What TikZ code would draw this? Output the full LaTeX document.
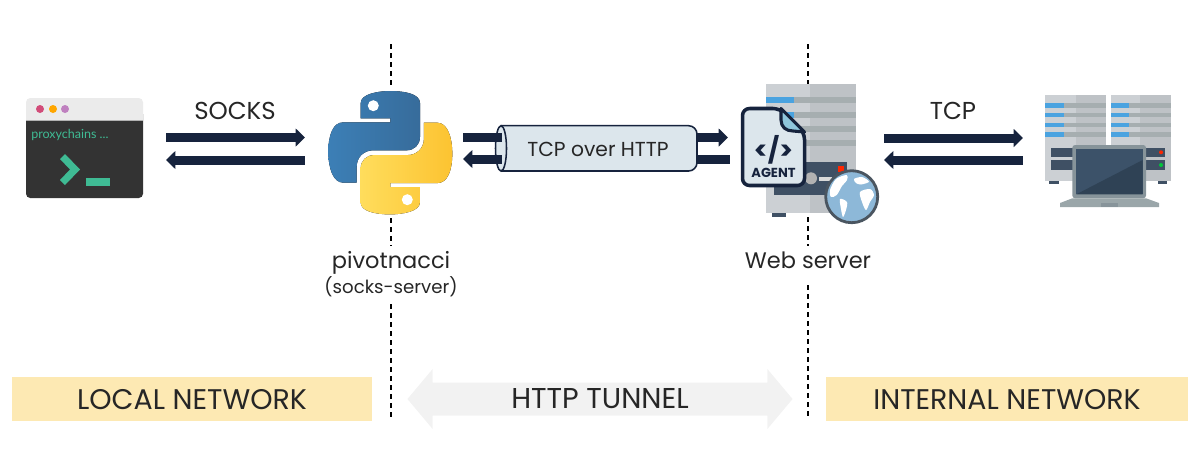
\documentclass[tikz,border=0pt]{standalone}
\usepackage{fontspec}
\setmainfont{Poppins}
\newfontfamily\promptfont{Lato}
\usetikzlibrary{arrows.meta,shapes.arrows}
\definecolor{navy}{HTML}{16233D}
\definecolor{band}{HTML}{FDE9B3}
\definecolor{pipe}{HTML}{DCE6EC}
\definecolor{rackl}{HTML}{CCD0D4}
\definecolor{rackr}{HTML}{BEC2C6}
\definecolor{rackbar}{HTML}{A6AEB0}
\definecolor{rackblue}{HTML}{4AA3E0}
\definecolor{panel}{HTML}{3F5064}
\definecolor{mint}{HTML}{3FBB94}
\definecolor{termbody}{HTML}{333333}
\definecolor{termbar}{HTML}{EBEBEB}
\definecolor{globefill}{HTML}{8DB8D8}
\definecolor{globerim}{HTML}{4A5560}
\definecolor{bezel}{HTML}{87949A}
\definecolor{deck}{HTML}{9AA6A9}
\definecolor{screena}{HTML}{3C5269}
\definecolor{screenb}{HTML}{2F4255}
\definecolor{snakea}{HTML}{3C7FB6}
\definecolor{snakeb}{HTML}{376C9B}
\definecolor{snakec}{HTML}{FFDD5C}
\definecolor{snaked}{HTML}{FCC331}
\tikzset{
  flowright/.style={draw=navy,line width=6.4pt,-{Triangle[length=6.6pt,width=12.4pt]}},
  flowleft/.style={draw=navy,line width=6.4pt,{Triangle[length=6.6pt,width=12.4pt]}-},
  flowplain/.style={draw=navy,line width=6.4pt},
  boundary/.style={draw=black,line width=0.9pt,dash pattern=on 3.5pt off 2.9pt},
  caption/.style={font=\fontsize{16}{19}\selectfont,text=black!85,inner sep=0pt},
  bigcaption/.style={font=\fontsize{17.4}{20}\selectfont,text=black!85,inner sep=0pt},
  smallcaption/.style={font=\fontsize{12.9}{15}\selectfont,text=black!85,inner sep=0pt},
  zoneband/.style={fill=band,minimum height=30.6pt,inner sep=0pt,font=\fontsize{20.2}{24}\selectfont,text=black!85}
}
\begin{document}
\begin{tikzpicture}[x=0.025cm,y=-0.025cm]
\useasboundingbox (0,0) rectangle (1200,469);
% zone boundaries
\coordinate (lefta) at (391,44);
\coordinate (leftb) at (391,87);
\coordinate (leftc) at (391,218);
\coordinate (leftd) at (391,246);
\coordinate (lefte) at (391,304);
\coordinate (leftf) at (391,419);
\coordinate (righta) at (808,44);
\coordinate (rightb) at (808,84);
\coordinate (rightc) at (808,217);
\coordinate (rightd) at (808,246);
\coordinate (righte) at (808,285);
\coordinate (rightf) at (808,419);
\draw [boundary] (lefta) -- (leftb);
\draw [boundary] (leftc) -- (leftd);
\draw [boundary] (lefte) -- (leftf);
\draw [boundary] (righta) -- (rightb);
\draw [boundary] (rightc) -- (rightd);
\draw [boundary] (righte) -- (rightf);
% terminal
\fill [termbody,rounded corners=3pt] (26,110) rectangle (143,198);
\fill [termbar,rounded corners=3pt] (26,98) rectangle (143,122);
\fill [termbar] (26,110) rectangle (143,120);
\fill [black!30] (26,120) rectangle (143,121);
\fill [termbody] (26,121) rectangle (143,130);
\fill [red!75!blue!70!white] (40,109) circle (4);
\fill [orange!70!yellow] (53,109) circle (4);
\fill [violet!50!white] (65,109) circle (4);
\node (prompt) [font=\promptfont\fontsize{8.9}{11}\selectfont,text=mint,inner sep=0pt,anchor=west] at (31,134.5) {proxychains ...};
\fill [mint] (65,154) -- (60,159) -- (70,169.5) -- (60,180) -- (65,185) -- (80,169.5) -- cycle;
\fill [mint] (86,178) rectangle (110,186);
% python
\fill [left color=snakea,right color=snakeb,draw=none]
  (360.7,118.3) -- (360.7,103) .. controls (360.7,94) and (378,91) .. (390.3,91)
  .. controls (405,91) and (420,94) .. (420,103) -- (420,136.7)
  .. controls (420,145) and (414,150.3) .. (406.7,150.3) -- (373.3,150.3)
  .. controls (364,150.3) and (356.7,157) .. (356.7,166.7) -- (356.7,182.7) -- (343.3,182.7)
  .. controls (333,182.7) and (328.3,168) .. (328.3,151.7)
  .. controls (328.3,135) and (333,122.3) .. (343.3,122.3) -- (390.3,122.3) -- (390.3,118.3) -- cycle;
\fill [left color=snakec,right color=snaked,draw=none]
  (419.9,187.1) -- (419.9,202.4) .. controls (419.9,211.4) and (402.6,214.4) .. (390.3,214.4)
  .. controls (375.6,214.4) and (360.6,211.4) .. (360.6,202.4) -- (360.6,168.7)
  .. controls (360.6,160.4) and (366.6,155.1) .. (373.9,155.1) -- (407.3,155.1)
  .. controls (416.6,155.1) and (423.9,148.4) .. (423.9,138.7) -- (423.9,122.7) -- (437.3,122.7)
  .. controls (447.6,122.7) and (452.3,137.4) .. (452.3,153.7)
  .. controls (452.3,170.4) and (447.6,183.1) .. (437.3,183.1) -- (390.3,183.1) -- (390.3,187.1) -- cycle;
\fill [white] (373.3,105.7) circle (5.5);
\fill [white] (407.3,199.7) circle (5.5);
% tunnel
\coordinate (tunnelouta) at (697,137.5);
\coordinate (tunneloutb) at (728,137.5);
\coordinate (tunneloutc) at (697,159);
\coordinate (tunneloutd) at (730,159);
\draw [flowright] (tunnelouta) -- (tunneloutb);
\draw [flowplain] (tunneloutc) -- (tunneloutd);
\draw [navy,fill=pipe,line width=1.1pt,rounded corners=6pt] (501,125.7) -- (697,125.7) -- (697,171) -- (501,171);
\draw [navy,fill=pipe,line width=1.1pt] (501,148.4) ellipse (5.5 and 22.7);
\node (tunnel) [smallcaption,font=\fontsize{14.4}{17}\selectfont] at (598,149) {TCP over HTTP};
\coordinate (tunnelina) at (463,137.5);
\coordinate (tunnelinb) at (502,137.5);
\coordinate (tunnelinc) at (463,159);
\coordinate (tunnelind) at (502,159);
\draw [flowplain] (tunnelina) -- (tunnelinb);
\draw [flowleft] (tunnelinc) -- (tunnelind);
% web server
\fill [rackl] (766,84) rectangle (810,212.7);
\fill [rackr] (810,84) rectangle (855.7,212.7);
\foreach \ybar in {97.3,111.7,126,139.5} {
  \fill [rackbar] (766,\ybar) rectangle (855.7,\ybar+6);
}
\foreach \ybar in {97.3,111.7} {
  \fill [rackblue] (766,\ybar) rectangle (794,\ybar+6);
}
\fill [panel] (774,162.3) rectangle (846.7,195);
\fill [red!70!orange] (838,166) rectangle (843.5,172);
\fill [black!30] (811,178.3) circle (6);
\fill [black!15] (819,176.7) rectangle (832,180.7);
\fill [panel] (771.7,212.7) rectangle (785.7,217);
\draw [globerim,line width=2pt,fill=globefill] (851.7,196.7) circle (26);
\fill [white] plot [smooth cycle] coordinates {(830,190) (836,179) (846.7,175) (847,180) (842,186) (836.7,195) (831,197)};
\fill [white] plot [smooth cycle] coordinates {(840,199) (847,202) (846,210) (843,217) (841,209)};
\fill [white] plot [smooth cycle] coordinates {(860,192) (870,189) (874,195) (870,202) (866,210) (862,202)};
\fill [white] plot [smooth cycle] coordinates {(854,179) (862,177) (869,181.7) (861,184.5) (856,183)};
% agent file
\draw [navy,fill=pipe,line width=2.5pt,line join=round,rounded corners=5pt] (742.5,108.5) -- (780,108.5) -- (804.5,132.5) -- (804.5,185.5) -- (742.5,185.5) -- cycle;
\draw [navy,fill=cyan!45!teal!50!white,line width=2.2pt,line join=round] (781,108.5) -- (781,120) .. controls (781,127) and (786,131) .. (793,131) -- (804.5,132) -- cycle;
\node (agenttag) [font=\bfseries\fontsize{18}{20}\selectfont,text=navy,inner sep=0pt] at (773.5,149.5) {</>};
\node (agentname) [font=\bfseries\fontsize{9.3}{11}\selectfont,text=navy,inner sep=0pt] at (773.5,173) {AGENT};
% internal hosts
\fill [rackl] (1045,95) rectangle (1076,181.3);
\fill [rackr] (1076,95) rectangle (1106,181.3);
\fill [rackl] (1110.7,95) rectangle (1140,181.3);
\fill [rackr] (1140,95) rectangle (1171,181.3);
\foreach \ybar in {103.3,113,122.7,132.3} {
  \fill [rackbar] (1045,\ybar) rectangle (1106,\ybar+4.4);
  \fill [rackbar] (1110.7,\ybar) rectangle (1171,\ybar+4.4);
  \fill [rackblue] (1045,\ybar) rectangle (1064.3,\ybar+4.4);
  \fill [rackblue] (1110.7,\ybar) rectangle (1129.3,\ybar+4.4);
}
\fill [panel] (1051,147.7) rectangle (1165,157.3);
\fill [panel] (1051,160) rectangle (1165,170);
\fill [red!70!orange] (1161,152.3) circle (2);
\fill [green!55!teal] (1161,165) circle (2);
\fill [panel] (1049.3,181.3) rectangle (1058.7,184.3);
\fill [panel] (1157.7,181.3) rectangle (1166.7,184.3);
\fill [bezel,rounded corners=2pt] (1072.3,145) rectangle (1146,198.3);
\fill [screena] (1076.3,149.3) rectangle (1142.7,194.3);
\fill [screenb] (1076.3,194.3) -- (1142.7,160) -- (1142.7,194.3) -- cycle;
\fill [deck] (1072.3,198.3) -- (1146,198.3) -- (1159,203) -- (1159,207) -- (1060,207) -- (1060,203) -- cycle;
\fill [bezel] (1101,203) rectangle (1117.7,207);
% flows
\coordinate (socksa) at (166,137.5);
\coordinate (socksb) at (305,137.5);
\coordinate (socksc) at (166,160);
\coordinate (socksd) at (305,160);
\draw [flowright] (socksa) -- (socksb);
\draw [flowleft] (socksc) -- (socksd);
\coordinate (tcpa) at (884,138);
\coordinate (tcpb) at (1023,138);
\coordinate (tcpc) at (884,160);
\coordinate (tcpd) at (1023,160);
\draw [flowright] (tcpa) -- (tcpb);
\draw [flowleft] (tcpc) -- (tcpd);
% labels
\node (socks) [bigcaption] at (235,111) {SOCKS};
\node (tcp) [bigcaption] at (953,111) {TCP};
\node (pivot) [caption] at (391,263) {pivotnacci};
\node (pivotrole) [smallcaption] at (391,287) {(socks-server)};
\node (webserver) [caption] at (808,260) {Web server};
% zones
\node (localzone) [zoneband,minimum width=256pt,text depth=-1pt] at (192,399) {LOCAL NETWORK};
\node (internalzone) [zoneband,minimum width=257.4pt,text depth=-1pt] at (1007,399) {INTERNAL NETWORK};
\node (httpzone) [shape=double arrow,fill=black!5,inner sep=0pt,minimum height=9.625cm,minimum width=1.5cm,double arrow head extend=0.2125cm,double arrow tip angle=100,font=\fontsize{20.4}{24}\selectfont,text=black!85] at (600,399) {HTTP TUNNEL};
\end{tikzpicture}
\end{document}
